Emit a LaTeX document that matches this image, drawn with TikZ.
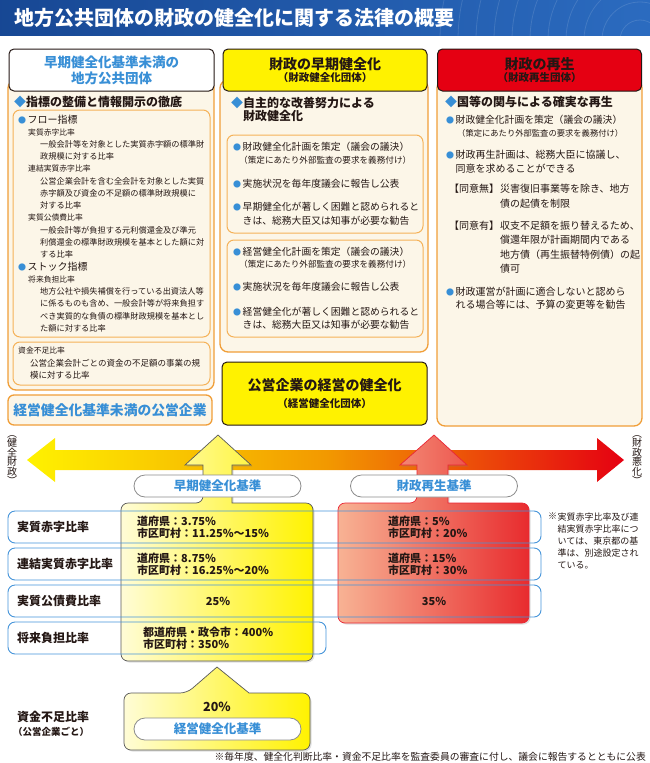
\documentclass[tikz,border=0pt]{standalone}
\usepackage{fontspec}
\setmainfont{Noto Sans CJK JP}
\usepackage{tikz}
\usetikzlibrary{positioning,shadows}
\definecolor{titblue}{rgb}{0.09,0.28,0.58}
\definecolor{titblue2}{rgb}{0.17,0.42,0.75}
\definecolor{skyblue}{rgb}{0.22,0.56,0.84}
\definecolor{ordark}{rgb}{0.94,0.62,0.22}
\definecolor{orlight}{rgb}{0.96,0.70,0.35}
\definecolor{cream}{rgb}{0.99,0.965,0.91}
\definecolor{kyellow}{rgb}{1.00,0.95,0.00}
\definecolor{lyellow}{rgb}{1.00,0.99,0.84}
\definecolor{kred}{rgb}{0.90,0.00,0.07}
\definecolor{lred}{rgb}{0.97,0.70,0.58}
\definecolor{mred}{rgb}{0.91,0.17,0.18}
\definecolor{korange}{rgb}{0.95,0.60,0.00}
\definecolor{inkdark}{rgb}{0.14,0.09,0.08}
\definecolor{rowblue}{rgb}{0.27,0.58,0.85}
\newcommand\fsz[2]{\fontsize{#1}{#2}\selectfont}
\newcommand\bul{{\color{skyblue}\fsz{8}{8}●}\hspace{1.5pt}}
\newcommand\dia{{\color{skyblue}◆}}

\begin{document}
\begin{tikzpicture}[x=1pt, y=-1pt,
    tx/.style={anchor=north west, inner sep=0pt, align=left, text=inkdark},
    hdr/.style={draw=inkdark, line width=1pt, rounded corners=5pt,
                minimum width=204pt, minimum height=42pt,
                align=center, inner sep=0pt, font=\bfseries},
    body/.style={draw=ordark, fill=cream, line width=1.3pt, rounded corners=8pt},
    inbox/.style={draw=orlight, fill=cream, line width=1pt, rounded corners=7pt},
    row/.style={draw=rowblue, line width=0.9pt, rounded corners=7pt},
    lab/.style={anchor=west, inner sep=0pt, text=inkdark, font=\fsz{12}{14}\bfseries},
    val/.style={anchor=west, inner sep=0pt, align=left, text=inkdark, font=\fsz{11}{12}\bfseries},
    pill/.style={draw=black!45, fill=white, line width=0.8pt, rounded corners=11pt,
                 minimum width=167pt, minimum height=22pt, inner sep=0pt,
                 text=skyblue, font=\fsz{12.5}{14}\bfseries},
    ybox/.style={draw=black!65, line width=0.7pt, left color=lyellow, right color=kyellow,
                 drop shadow={opacity=0.25, shadow xshift=1.5pt, shadow yshift=-1.5pt}},
    rbox/.style={draw=kred!85, line width=0.7pt, left color=lred, right color=mred,
                 drop shadow={opacity=0.25, shadow xshift=1.5pt, shadow yshift=-1.5pt}},
    vtx/.style={inner sep=0pt, align=center, text=inkdark, font=\fsz{10}{9.5}}
  ]
  \useasboundingbox (0,0) rectangle (650,763);

  \shade[left color=titblue, right color=titblue2] (0,0) rectangle (650,35);
  \begin{scope}
    \clip (0,0) rectangle (650,35);
    \foreach \r in {20,38,...,200}
      \draw[white, opacity=0.12, line width=0.8pt] (640,40) circle (\r pt);
  \end{scope}
  \node[anchor=west, inner sep=0pt, text=white, font=\fsz{20}{22}\bfseries] (ttl) at (14,17.5)
    {地方公共団体の財政の健全化に関する法律の概要};

  \draw[body] (8,80) rectangle (214,390);
  \draw[body] (220,80) rectangle (428,352);
  \draw[body] (437,80) rectangle (642,426);
  \draw[inbox] (13,110) rectangle (210,337);
  \draw[inbox] (13,342) rectangle (210,385);
  \draw[inbox] (227,135) rectangle (423,233);
  \draw[inbox] (227,240) rectangle (423,337);

  \node[hdr, fill=white, text=skyblue, font=\fsz{13.5}{16}\bfseries, minimum width=205pt] (hl) at (111.5,70)
    {早期健全化基準未満の\\地方公共団体};
  \node[hdr, fill=kyellow, text=inkdark] (hm) at (325,70)
    {\fsz{14}{16}財政の早期健全化\\{\fsz{10.5}{12}（財政健全化団体）}};
  \node[hdr, fill=kred, text=inkdark] (hr) at (539.5,70)
    {\fsz{14}{16}財政の再生\\{\fsz{10.5}{12}（財政再生団体）}};

  % left column
  \node[tx, font=\fsz{12}{13}\bfseries] (lh) at (14,96) {\dia 指標の整備と情報開示の徹底};
  \node[tx, font=\fsz{10}{12}] (fl) at (18,115) {\bul フロー指標};
  \node[tx, font=\fsz{7.8}{12.25}] (f1) at (28,128.4) {実質赤字比率};
  \node[tx, font=\fsz{8.2}{12.25}] (f1d) at (40,140.4)
    {一般会計等を対象とした実質赤字額の標準財\\政規模に対する比率};
  \node[tx, font=\fsz{7.8}{12.25}] (f2) at (28,165.1) {連結実質赤字比率};
  \node[tx, font=\fsz{8.2}{12.25}] (f2d) at (40,177.2)
    {公営企業会計を含む全会計を対象とした実質\\赤字額及び資金の不足額の標準財政規模に\\対する比率};
  \node[tx, font=\fsz{7.8}{12.25}] (f3) at (28,214.1) {実質公債費比率};
  \node[tx, font=\fsz{8.2}{12.25}] (f3d) at (40,226.2)
    {一般会計等が負担する元利償還金及び準元\\利償還金の標準財政規模を基本とした額に対\\する比率};
  \node[tx, font=\fsz{10}{12}] (st) at (18,262) {\bul ストック指標};
  \node[tx, font=\fsz{7.8}{12.25}] (s1) at (28,275.4) {将来負担比率};
  \node[tx, font=\fsz{8.2}{12.25}] (s1d) at (40,287.4)
    {地方公社や損失補償を行っている出資法人等\\に係るものも含め、一般会計等が将来負担す\\べき実質的な負債の標準財政規模を基本とし\\た額に対する比率};
  \node[tx, font=\fsz{7.8}{12}] (sk) at (18,347.1) {資金不足比率};
  \node[tx, font=\fsz{8.5}{12}] (skd) at (30,358.8)
    {公営企業会計ごとの資金の不足額の事業の規\\模に対する比率};
  \node[draw=ordark, fill=cream, line width=1.3pt, rounded corners=6pt,
        minimum width=204pt, minimum height=30pt, inner sep=0pt,
        text=skyblue, font=\fsz{13.8}{15}\bfseries] (kmm) at (110,410)
    {経営健全化基準未満の公営企業};

  % middle column
  \node[tx, font=\fsz{12}{13}\bfseries] (mh) at (231,97)
    {\dia 自主的な改善努力による\\\hspace*{12pt}財政健全化};
  \node[tx, font=\fsz{9.8}{13.5}] (m1) at (233,142.1) {\bul 財政健全化計画を策定（議会の議決）};
  \node[tx, font=\fsz{8.6}{12}] (m1s) at (239,156.2) {（策定にあたり外部監査の要求を義務付け）};
  \node[tx, font=\fsz{9.8}{13.5}] (m2) at (233,179.1) {\bul 実施状況を毎年度議会に報告し公表};
  \node[tx, font=\fsz{9.8}{14}] (m3) at (233,202.1)
    {\bul 早期健全化が著しく困難と認められると\\\hspace*{9.5pt}きは、総務大臣又は知事が必要な勧告};
  \node[tx, font=\fsz{9.8}{13.5}] (m4) at (233,246.6) {\bul 経営健全化計画を策定（議会の議決）};
  \node[tx, font=\fsz{8.6}{12}] (m4s) at (239,260.2) {（策定にあたり外部監査の要求を義務付け）};
  \node[tx, font=\fsz{9.8}{13.5}] (m5) at (233,282.1) {\bul 実施状況を毎年度議会に報告し公表};
  \node[tx, font=\fsz{9.8}{13}] (m6) at (233,307.1)
    {\bul 経営健全化が著しく困難と認められると\\\hspace*{9.5pt}きは、総務大臣又は知事が必要な勧告};
  \node[hdr, fill=kyellow, text=inkdark, minimum width=205pt, minimum height=63pt] (kk) at (324.5,393.5)
    {\fsz{14}{16}公営企業の経営の健全化\\[5pt]{\fsz{10.5}{12}（経営健全化団体）}};

  % right column
  \node[tx, font=\fsz{12}{13}\bfseries] (rh) at (445,96) {\dia 国等の関与による確実な再生};
  \node[tx, font=\fsz{9.8}{13}] (r1) at (446,115.1) {\bul 財政健全化計画を策定（議会の議決）};
  \node[tx, font=\fsz{8.3}{12}] (r1s) at (457,128.8) {（策定にあたり外部監査の要求を義務付け）};
  \node[tx, font=\fsz{10}{14}] (r2) at (446,150)
    {\bul 財政再生計画は、総務大臣に協議し、\\\hspace*{9.5pt}同意を求めることができる};
  \node[tx, font=\fsz{10}{15}] (r3a) at (449,184) {【同意無】};
  \node[tx, font=\fsz{10}{15}] (r3b) at (500,184) {災害復旧事業等を除き、地方\\債の起債を制限};
  \node[tx, font=\fsz{10}{14.3}] (r4a) at (449,221) {【同意有】};
  \node[tx, font=\fsz{10}{14.3}] (r4b) at (500,221)
    {収支不足額を振り替えるため、\\償還年限が計画期間内である\\地方債（再生振替特例債）の起\\債可};
  \node[tx, font=\fsz{10}{13}] (r5) at (446,287)
    {\bul 財政運営が計画に適合しないと認めら\\\hspace*{9.5pt}れる場合等には、予算の変更等を勧告};

  % scale arrow
  \shade[left color=kyellow, right color=kred, middle color=korange]
    (27,460) -- (55,438) -- (55,450) -- (597,450) -- (597,438) -- (624,460)
    -- (597,482) -- (597,470) -- (55,470) -- (55,482) -- cycle;
  \node[vtx] (kz) at (12,460) {︵\\健\\全\\財\\政\\︶};
  \node[vtx] (ak) at (637,460) {︵\\財\\政\\悪\\化\\︶};

  \draw[ybox] (121,530) [rounded corners=7pt] -- (121,503) -- (203,503) [sharp corners]
    -- (203,465) -- (185,465) -- (218,435) -- (251,465) -- (232,465) -- (232,503)
    [rounded corners=7pt] -- (313,503) -- (313,661) -- (121,661) -- cycle;
  \draw[rbox] (338,530) [rounded corners=7pt] -- (338,503) -- (417,503) [sharp corners]
    -- (417,465) -- (400,465) -- (434,435) -- (467,465) -- (448,465) -- (448,503)
    [rounded corners=7pt] -- (529,503) -- (529,623) -- (338,623) -- cycle;
  \node[pill] (pk) at (217.5,486) {早期健全化基準};
  \node[pill] (pz) at (434,486) {財政再生基準};

  % ratio rows
  \draw[row] (8,511) rectangle (541,543);
  \draw[row] (8,548) rectangle (541,580);
  \draw[row] (8,585) rectangle (541,617);
  \draw[row] (8,622) rectangle (326,654);
  \node[lab] (l1) at (17,527) {実質赤字比率};
  \node[lab] (l2) at (17,564) {連結実質赤字比率};
  \node[lab] (l3) at (17,601) {実質公債費比率};
  \node[lab] (l4) at (17,638) {将来負担比率};
  \node[val] (v1) at (137,527) {道府県：3.75\%\\市区町村：11.25\%～15\%};
  \node[val] (v2) at (137,564) {道府県：8.75\%\\市区町村：16.25\%～20\%};
  \node[val, anchor=center] (v3) at (218,601) {25\%};
  \node[val] (v4) at (143,638) {都道府県・政令市：400\%\\市区町村：350\%};
  \node[val] (w1) at (388,527) {道府県：5\%\\市区町村：20\%};
  \node[val] (w2) at (388,564) {道府県：15\%\\市区町村：30\%};
  \node[val, anchor=center] (w3) at (434,601) {35\%};
  \node[tx, font=\fsz{9}{12}] (nt0) at (548,512.5) {※};
  \node[tx, font=\fsz{9}{12}] (nt) at (557.5,512.5)
    {実質赤字比率及び連\\結実質赤字比率につ\\いては、東京都の基\\準は、別途設定され\\ている。};

  % fund shortage
  \draw[ybox] (124,710) [rounded corners=7pt] -- (124,693) -- (187,693) [sharp corners]
    -- (217,667) -- (249,693) [rounded corners=7pt] -- (310,693) -- (310,750) -- (124,750) -- cycle;
  \node[val, anchor=center, font=\fsz{12.5}{14}\bfseries] (p20) at (217,707) {20\%};
  \node[pill] (pe) at (217.5,729) {経営健全化基準};
  \node[lab] (sf) at (17,717) {資金不足比率};
  \node[anchor=west, inner sep=0pt, text=inkdark, font=\fsz{9.5}{11}\bfseries] (sfk) at (13,732) {（公営企業ごと）};
  \node[anchor=east, inner sep=0pt, text=inkdark, font=\fsz{9.8}{11}] (fn) at (646,757)
    {※毎年度、健全化判断比率・資金不足比率を監査委員の審査に付し、議会に報告するとともに公表};
\end{tikzpicture}
\end{document}
